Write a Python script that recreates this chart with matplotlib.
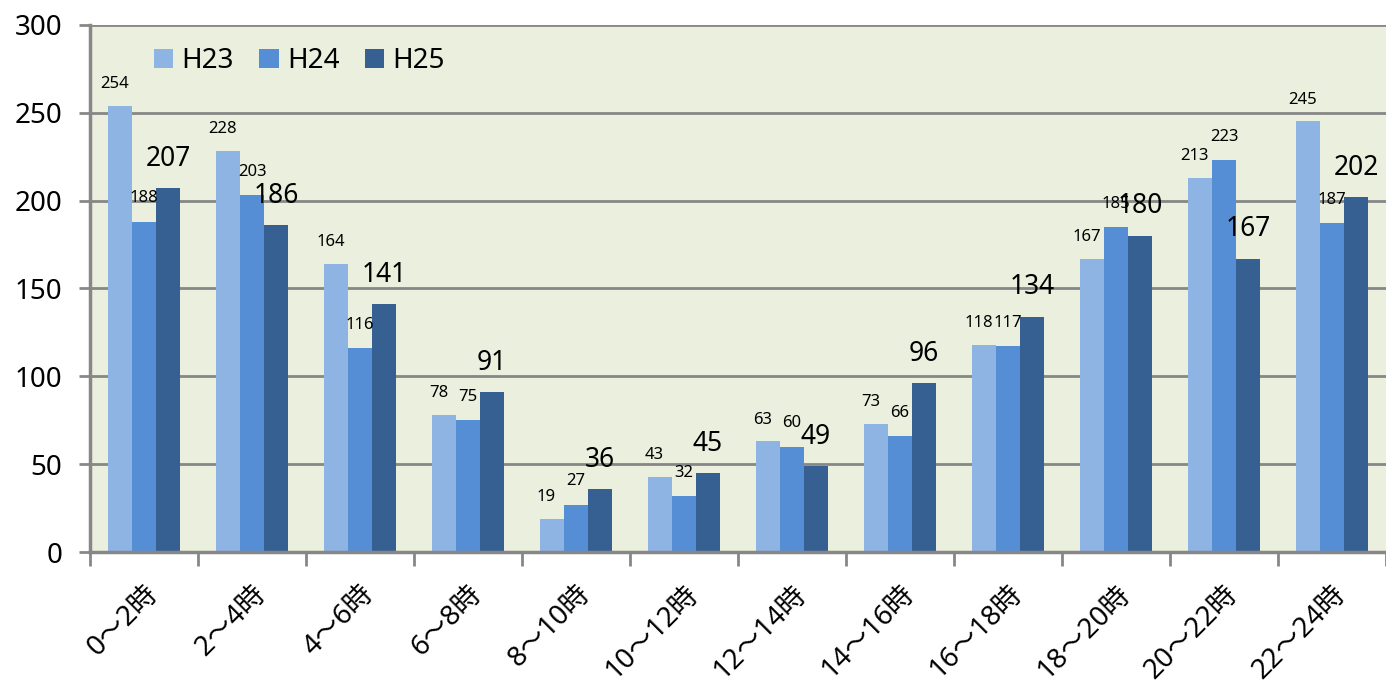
import matplotlib
matplotlib.use('Agg')
import matplotlib.pyplot as plt
import numpy as np

plt.rcParams['font.family'] = ['Noto Sans', 'Noto Sans CJK JP', 'DejaVu Sans']

# Data
categories = ['0〜2時', '2〜4時', '4〜6時', '6〜8時', '8〜10時', '10〜12時',
              '12〜14時', '14〜16時', '16〜18時', '18〜20時', '20〜22時', '22〜24時']
h23 = [254, 228, 164, 78, 19, 43, 63, 73, 118, 167, 213, 245]
h24 = [188, 203, 116, 75, 27, 32, 60, 66, 117, 185, 223, 187]
h25 = [207, 186, 141, 91, 36, 45, 49, 96, 134, 180, 167, 202]
series_names = ['H23', 'H24', 'H25']

colors = ['#8EB4E3', '#558ED5', '#376092']
label_sizes = [12, 12, 19]
label_offsets = [(-4, 10), (0, 11), (0, 11)]

fig = plt.figure(figsize=(13.86, 6.86), dpi=100)
ax = fig.add_axes([0.065, 0.195, 0.935, 0.769])
ax.set_facecolor('#EBEFDE')

x = np.arange(len(categories))
w = 0.222
for i, (vals, name) in enumerate(zip([h23, h24, h25], series_names)):
    pos = x + (i - 1) * w
    ax.bar(pos, vals, width=w, color=colors[i], label=name, zorder=3)
    for px, v in zip(pos, vals):
        ax.annotate(str(v), (px, v), xytext=label_offsets[i], textcoords='offset points',
                    ha='center', va='bottom', fontsize=label_sizes[i], zorder=4)

ax.set_xlim(-0.5, len(categories) - 0.5)
ax.set_ylim(0, 300)
ax.set_yticks(range(0, 301, 50))
ax.yaxis.grid(True, color='#878787', linewidth=2, zorder=0)
ax.tick_params(axis='y', labelsize=20, length=8, width=2, color='#878787', pad=12)

ax.set_xticks(np.arange(len(categories) + 1) - 0.5)
ax.set_xticklabels([])
ax.tick_params(axis='x', which='major', length=10, width=2, color='#878787')
ax.set_xticks(x, minor=True)
ax.set_xticklabels(categories, minor=True, rotation=45, ha='right',
                   rotation_mode='anchor', fontsize=20)
ax.tick_params(axis='x', which='minor', length=0, pad=20)

for s in ['top', 'right']:
    ax.spines[s].set_visible(False)
for s in ['left', 'bottom']:
    ax.spines[s].set_color('#878787')
    ax.spines[s].set_linewidth(2.5)
ax.spines['bottom'].set_zorder(5)

ax.legend(loc='upper left', bbox_to_anchor=(0.03, 1.005), ncol=3, frameon=False,
          fontsize=20, handlelength=0.7, handleheight=0.7, columnspacing=0.9,
          handletextpad=0.3)

fig.savefig('out.png', dpi=100)
